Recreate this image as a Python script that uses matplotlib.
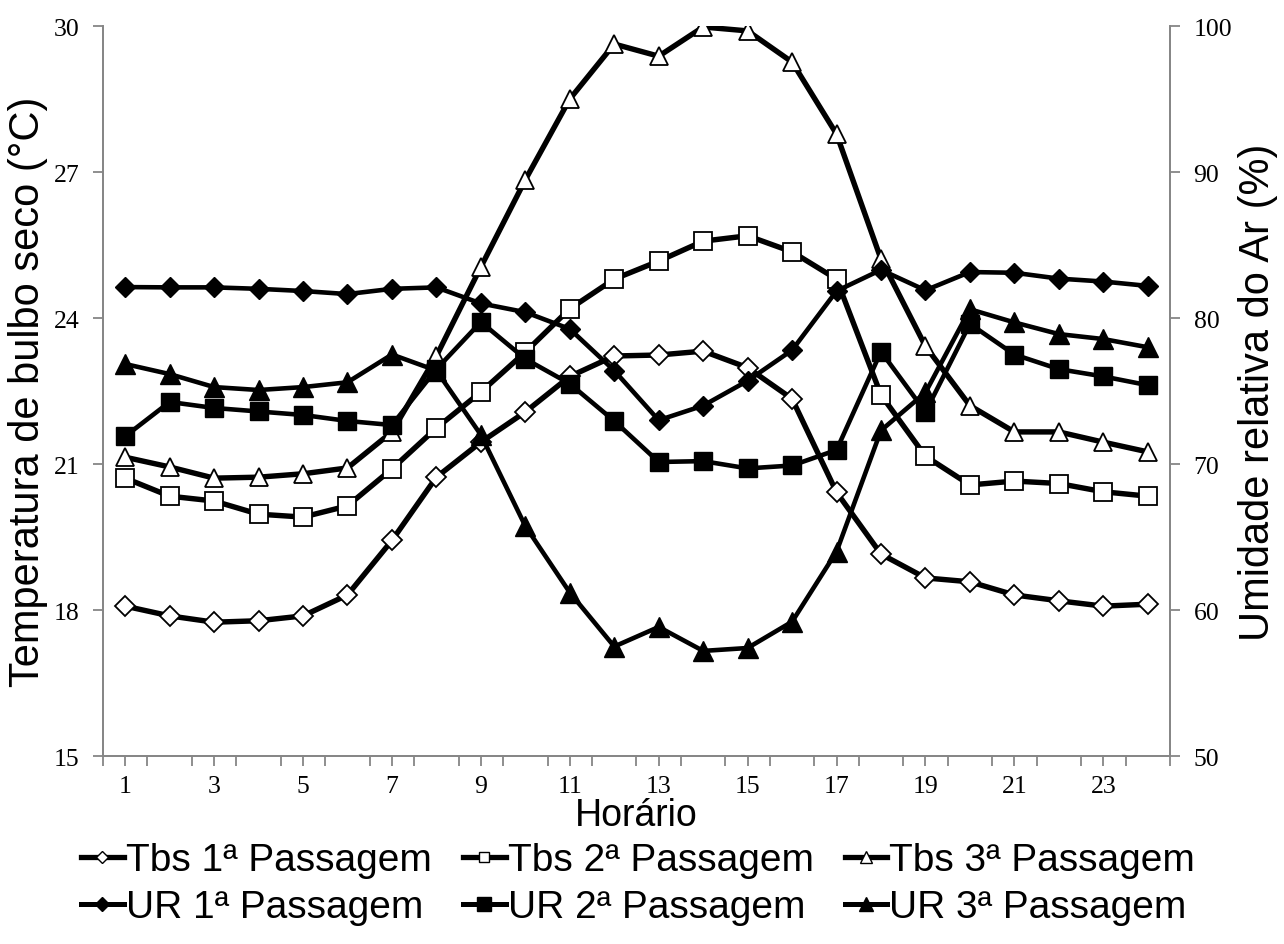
from __future__ import annotations

import matplotlib

matplotlib.use("Agg")
import matplotlib.pyplot as plt
from matplotlib.lines import Line2D

hours = list(range(1, 25))
hour_labels = [str(h) for h in range(1, 25, 2)]

tbs_1 = [18.08, 17.88, 17.75, 17.78, 17.88, 18.31, 19.43, 20.73, 21.45, 22.07, 22.80, 23.22,
         23.24, 23.32, 22.98, 22.34, 20.42, 19.15, 18.66, 18.58, 18.31, 18.19, 18.08, 18.12]
tbs_2 = [20.71, 20.34, 20.24, 19.97, 19.91, 20.14, 20.90, 21.74, 22.48, 23.30, 24.19, 24.80,
         25.17, 25.58, 25.69, 25.36, 24.80, 22.42, 21.16, 20.57, 20.65, 20.60, 20.43, 20.34]
tbs_3 = [21.14, 20.94, 20.71, 20.73, 20.80, 20.92, 21.66, 23.22, 25.05, 26.84, 28.50, 29.63,
         29.38, 29.98, 29.90, 29.26, 27.78, 25.21, 23.42, 22.20, 21.66, 21.66, 21.45, 21.25]

ur_1 = [82.12, 82.10, 82.10, 82.00, 81.85, 81.64, 82.00, 82.10, 81.00, 80.40, 79.25, 76.40,
        73.00, 74.00, 75.70, 77.80, 81.85, 83.30, 81.90, 83.15, 83.10, 82.70, 82.50, 82.20]
ur_2 = [71.90, 74.25, 73.84, 73.60, 73.36, 72.95, 72.67, 76.50, 79.73, 77.20, 75.50, 72.95,
        70.14, 70.20, 69.70, 69.90, 70.96, 77.70, 73.56, 79.60, 77.50, 76.50, 76.00, 75.40]
ur_3 = [76.85, 76.16, 75.27, 75.07, 75.27, 75.60, 77.50, 76.40, 72.00, 65.75, 61.20, 57.50,
        58.84, 57.20, 57.40, 59.20, 64.00, 72.30, 74.90, 80.60, 79.70, 78.90, 78.56, 78.00]

AXIS_GREY = "#868686"
SANS = ["Liberation Sans", "Arial", "DejaVu Sans"]
SERIF = ["Liberation Serif", "Times New Roman", "DejaVu Serif"]


def style_axis(ax) -> None:
    for side in ("top", "left", "right", "bottom"):
        ax.spines[side].set_color(AXIS_GREY)
        ax.spines[side].set_linewidth(1.3)
    ax.tick_params(which="both", colors=AXIS_GREY, width=1.3, length=7)
    for label in ax.get_xticklabels(which="both") + ax.get_yticklabels():
        label.set_color("black")
        label.set_fontfamily(SERIF)
        label.set_fontsize(18.5)


def main() -> None:
    fig = plt.figure(figsize=(12.84, 9.45), dpi=100)
    ax = fig.add_axes([0.0802, 0.1989, 0.8310, 0.7725])
    ax2 = ax.twinx()

    temp_series = [
        (tbs_1, "D", 10.0, "Tbs 1ª Passagem"),
        (tbs_2, "s", 13.0, "Tbs 2ª Passagem"),
        (tbs_3, "^", 13.5, "Tbs 3ª Passagem"),
    ]
    rh_series = [
        (ur_1, "D", 10.0, "UR 1ª Passagem"),
        (ur_2, "s", 13.5, "UR 2ª Passagem"),
        (ur_3, "^", 14.0, "UR 3ª Passagem"),
    ]

    handles_t = []
    for values, marker, size, label in temp_series:
        ax.plot(hours, values, color="black", lw=3.9, marker=marker, ms=size,
                mfc="white", mec="black", mew=1.3, zorder=3)
        handles_t.append(Line2D([], [], color="black", lw=3.8, marker=marker, ms=size * 0.6,
                                mfc="white", mec="black", mew=1.0, label=label))

    handles_r = []
    for values, marker, size, label in rh_series:
        ax2.plot(hours, values, color="black", lw=3.3, marker=marker, ms=size,
                 mfc="black", mec="black", mew=1.0, zorder=3)
        handles_r.append(Line2D([], [], color="black", lw=3.6, marker=marker, ms=size * 0.7,
                                mfc="black", mec="black", label=label))

    ax.set_xlim(0.5, 24.5)
    ax.set_ylim(15, 30)
    ax.set_yticks(range(15, 31, 3))
    ax2.set_ylim(50, 100)
    ax2.set_yticks(range(50, 101, 10))

    # category boundaries carry the tick marks, odd hours carry the labels
    ax.set_xticks([h + 0.5 for h in range(0, 25)])
    ax.set_xticklabels([])
    ax.set_xticks(range(1, 25, 2), minor=True)
    ax.set_xticklabels(hour_labels, minor=True)
    ax.tick_params(axis="x", which="minor", length=0, pad=7)
    ax.tick_params(axis="y", pad=10)
    ax2.tick_params(axis="y", pad=10)

    style_axis(ax)
    style_axis(ax2)
    ax.spines["top"].set_visible(False)
    ax2.spines["top"].set_visible(False)

    ax.set_xlabel("Horário", fontsize=27, family=SANS, labelpad=0)
    ax.set_ylabel("Temperatura de bulbo seco (°C)", fontsize=30, family=SANS, labelpad=4)
    ax2.set_ylabel("Umidade relativa do Ar (%)", fontsize=30, family=SANS, labelpad=4)

    order = [handles_t[0], handles_r[0], handles_t[1], handles_r[1], handles_t[2], handles_r[2]]
    fig.legend(handles=order, loc="lower center", bbox_to_anchor=(0.497, -0.009), ncol=3,
               frameon=False, prop={"family": SANS, "size": 28}, handlelength=1.1,
               handletextpad=0.05, columnspacing=0.8, labelspacing=0.28, borderpad=0.2)

    fig.savefig("out.png", dpi=100, facecolor="white")
    plt.close(fig)


if __name__ == "__main__":
    main()
